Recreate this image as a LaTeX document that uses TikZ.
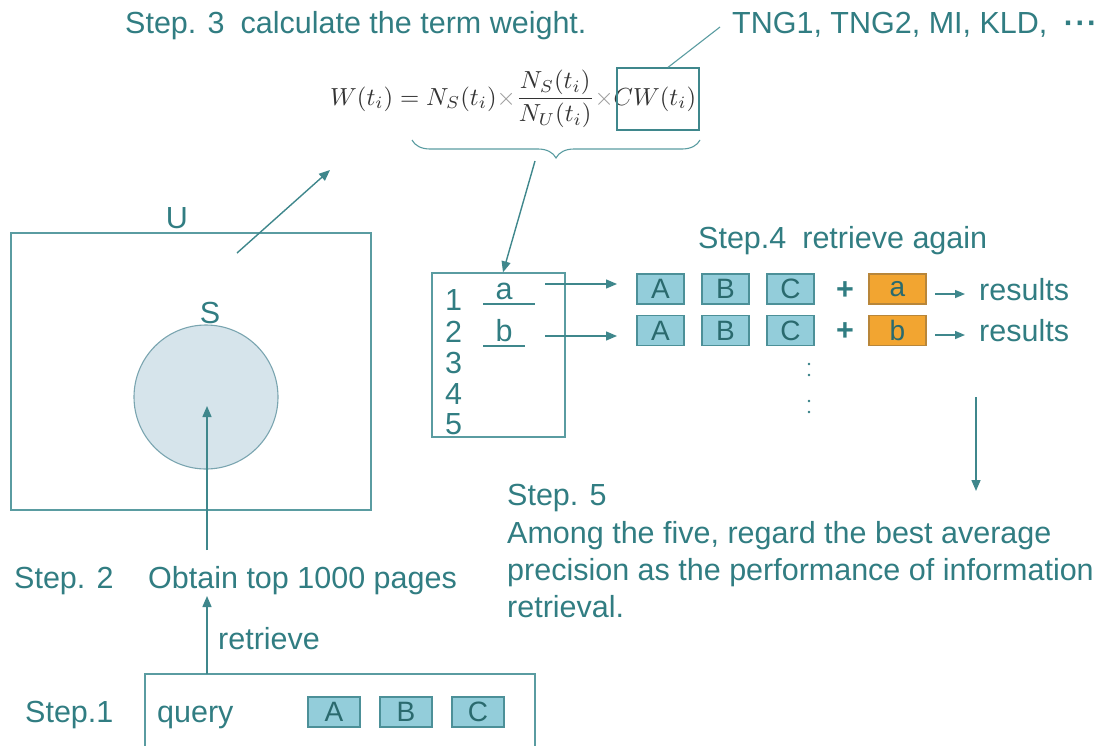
\documentclass[tikz,border=0pt]{standalone}
\usepackage{fontspec}
\setmainfont{Liberation Sans}
\usetikzlibrary{arrows.meta,decorations.pathreplacing,calc}
\definecolor{ink}{HTML}{317D82}
\definecolor{rule}{HTML}{3F878C}
\definecolor{frameline}{HTML}{5A9CA1}
\definecolor{keyfill}{HTML}{93CDDA}
\definecolor{keyline}{HTML}{4C9098}
\definecolor{addfill}{HTML}{F2A531}
\definecolor{addline}{HTML}{B8863A}
\definecolor{setfill}{HTML}{D6E4EB}
\definecolor{setline}{HTML}{7AA5B0}
\definecolor{mathink}{HTML}{333333}
\definecolor{timesgray}{HTML}{9A9A9A}
\begin{document}
\begin{tikzpicture}[x=1pt,y=-1pt,
  txt/.style={text=ink, font=\fontsize{30.5}{36}\selectfont, inner sep=0pt, anchor=base west},
  frame/.style={draw=frameline, line width=1.3pt, inner sep=0pt},
  key/.style={draw=keyline, fill=keyfill, line width=1.2pt, minimum width=47pt,
    minimum height=30pt, inner sep=0pt, text=ink!85!black, font=\fontsize{28}{32}\selectfont},
  addkey/.style={key, draw=addline, fill=addfill, minimum width=57pt},
  arr/.style={draw=rule, line width=1.4pt, -{Triangle[length=11pt,width=9pt]}},
  sarr/.style={draw=rule, line width=1.4pt, -{Triangle[length=10pt,width=8pt]}},
  thin/.style={draw=rule, line width=1.1pt},
  dot/.style={circle, fill=ink, inner sep=0pt, minimum size=2.6pt},
]
\useasboundingbox (0,0) rectangle (1107,745);

% ---- Step 3: term weight formula ----
\node[txt] (s3) at (125,33) {Step. 3\hspace{16pt}calculate the term weight.};
\node[txt] (tng) at (732,33) {TNG1, TNG2, MI, KLD, \hspace{8pt}\textbf{·\hspace{1.5pt}·\hspace{1.5pt}·}};
\node[inner sep=0pt, anchor=west, text=mathink] (wf) at (330,99)
  {\resizebox{366pt}{!}{$\displaystyle W(t_i)=N_S(t_i){\color{timesgray}\times}\frac{N_S(t_i)}{N_U(t_i)}{\color{timesgray}\times}CW(t_i)$}};
\node[frame, draw=rule, minimum width=82pt, minimum height=62pt] (cw) at (658,99) {};
\coordinate (tngfoot) at (720,27);
\draw[thin, draw=frameline] (cw.north) ++(10,0) coordinate (cwtop) -- (tngfoot);
\coordinate (brR) at (700,140);
\coordinate (brL) at (412,140);
\draw[thin, draw=frameline, decorate, decoration={brace, amplitude=18pt, aspect=0.5}] (brR) -- (brL);
\coordinate (brtip) at (535,161);

% ---- U and S ----
\node[frame, minimum width=360pt, minimum height=277pt] (ubox) at (191,371.5) {};
\node[txt, anchor=base] (ulab) at (177,228) {U};
\node[circle, draw=setline, fill=setfill, line width=1.1pt, minimum size=144pt, inner sep=0pt] (sset) at (206,397) {};
\node[txt, anchor=base] (slab) at (210,323) {S};
\coordinate (uout) at (237,253);
\coordinate (uhead) at (330,170);
\draw[arr] (uout) -- (uhead);

% ---- Step 2 ----
\node[txt] (s2) at (14,588) {Step. 2};
\node[txt] (obtain) at (148,588) {Obtain top 1000 pages};
\coordinate (obtop) at (207,550);
\coordinate (sin) at (207,406);
\draw[arr] (obtop) -- (sin);
\node[txt] (retr) at (218,649) {retrieve};

% ---- Step 1 ----
\node[txt] (s1) at (25,722) {Step.1};
\coordinate (qbl) at (145,746);
\coordinate (qbr) at (535,746);
\draw[frame] (qbl) |- (535,674) coordinate (qtr) -- (qbr);
\coordinate (qtop) at (207,674);
\coordinate (obbot) at (207,596);
\draw[arr] (qtop) -- (obbot);
\node[txt] (query) at (157,722) {query};
\node[key, minimum width=52pt] (qa) at (334,712) {A};
\node[key, minimum width=52pt] (qb) at (406,712) {B};
\node[key, minimum width=52pt] (qc) at (478,712) {C};

% ---- ranked term list ----
\node[frame, minimum width=133pt, minimum height=164pt] (list) at (498.5,355) {};
\draw[arr] (brtip) -- (list.north -| 503,0);
\foreach \n/\y in {1/310,2/342,3/373,4/404,5/434}
  \node[txt] (n\n) at (445,\y) {\n};
\node[txt, anchor=base] (ta) at (504,299) {a};
\node[txt, anchor=base] (tb) at (504,341) {b};
\draw[thin] (483,304) coordinate (ua1) -- (535,304) coordinate (ua2);
\draw[thin] (483,346) coordinate (ub1) -- (525,346) coordinate (ub2);

% ---- Step 4 ----
\node[txt] (s4) at (698,248) {Step.4\hspace{16pt}retrieve again};
\coordinate (la) at (545,284);
\coordinate (lb) at (545,336);
\node[key] (ra) at (660.5,289) {A};
\node[key] (rb) at (725.5,289) {B};
\node[key] (rc) at (790.5,289) {C};
\node[txt, anchor=base] (rp1) at (845,299) {\textbf{+}};
\node[addkey] (raa) at (897.5,289) {a};
\draw[arr] (la) -- (617,284);
\node[txt] (res1) at (979,300) {results};
\draw[sarr] (935,294) coordinate (r1s) -- (965,294) coordinate (r1e);

\node[key] (sa) at (660.5,330.5) {A};
\node[key] (sb) at (725.5,330.5) {B};
\node[key] (sc) at (790.5,330.5) {C};
\node[txt, anchor=base] (rp2) at (845,340) {\textbf{+}};
\node[addkey] (sbb) at (897.5,330.5) {b};
\draw[arr] (lb) -- (617,336);
\node[txt] (res2) at (979,341) {results};
\draw[sarr] (935,335) coordinate (r2s) -- (965,335) coordinate (r2e);

\node[dot] (d1) at (809,364) {};
\node[dot] (d2) at (809,375) {};
\node[dot] (d3) at (809,401) {};
\node[dot] (d4) at (809,412) {};

\coordinate (down1) at (976,397);
\coordinate (down2) at (976,491);
\draw[arr] (down1) -- (down2);

% ---- Step 5 ----
\node[txt] (s5) at (507,505) {Step. 5};
\node[txt] (l1) at (507,543) {Among the five, regard the best average};
\node[txt] (l2) at (507,580) {precision as the performance of information};
\node[txt] (l3) at (507,617) {retrieval.};
\end{tikzpicture}
\end{document}
